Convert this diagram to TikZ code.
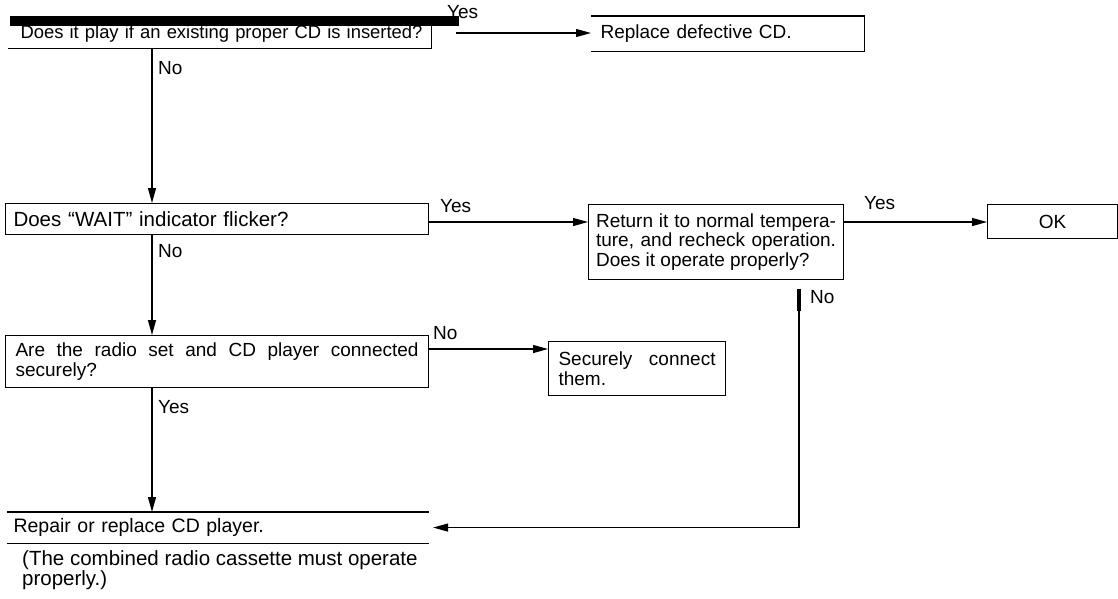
\documentclass[tikz,border=0pt]{standalone}
\usepackage{fontspec}
\setmainfont{Liberation Sans}
\usetikzlibrary{arrows.meta}
\begin{document}
\begin{tikzpicture}[x=1pt,y=-1pt,
  every node/.style={font=\fontsize{19}{20.5}\selectfont},
  qbox/.style={draw, line width=1.1pt, align=justify, inner xsep=9pt, inner ysep=0pt, anchor=north west},
  edge/.style={line width=1.2pt},
  lbl/.style={inner sep=0pt, anchor=west},
  arr/.style={line width=1.2pt, -{Triangle[length=15pt,width=8pt]}}
]
\useasboundingbox (0,0) rectangle (1118,598);

% boxes
\node[qbox, draw=none, text width=398pt, inner xsep=12pt, minimum height=27pt, align=left, font=\fontsize{18.4}{20}\selectfont] (b1) at (8,20) {\mbox{Does it play if an existing proper CD is inserted?}};
\node[qbox, draw=none, text width=254pt, minimum height=34pt, align=left] (b2) at (591,16) {Replace defective CD.};
\node[qbox, text width=407pt, inner xsep=8pt, minimum height=31pt, align=left, font=\fontsize{20.5}{22}\selectfont] (b3) at (5,203) {Does “WAIT” indicator flicker?};
\node[qbox, text width=240pt, inner xsep=7.5pt, minimum height=75pt, font=\fontsize{19}{19.5}\selectfont] (b4) at (588,204) {Return it to normal tempera-\linebreak ture, and recheck operation.\linebreak Does it operate properly?};
\node[qbox, text width=112pt, minimum height=34pt, align=center] (ok) at (987,204) {OK};
\node[qbox, text width=403pt, inner xsep=10pt, minimum height=52pt] (b5) at (5,335) {Are the radio set and CD player connected\linebreak securely?};
\node[qbox, text width=157pt, inner xsep=10pt, minimum height=54pt] (b6) at (548,341) {Securely connect\linebreak them.};
\node[qbox, draw=none, text width=409pt, inner xsep=6pt, minimum height=30pt, align=left, font=\fontsize{19.5}{21}\selectfont] (b7) at (7,512) {Repair or replace CD player.};
\node[anchor=north west, inner sep=0pt, align=left, font=\fontsize{20.5}{19}\selectfont] (note) at (22,550) {(The combined radio cassette must operate\\properly.)};

% partial box outlines
\draw[edge] (b1.south west) -- (b1.south east) -- (b1.north east);
\draw[edge] (b2.north west) -- (b2.north east) -- (b2.south east) -- (b2.south west);
\draw[edge] (b7.north west) -- (b7.north east);
\draw[edge] (b7.south west) -- (b7.south east);

% labels
\node[lbl] (y1) at (447,12) {Yes};
\node[lbl] (n1) at (158,68) {No};
\node[lbl] (y2) at (440,206) {Yes};
\node[lbl] (n2) at (158,251) {No};
\node[lbl] (y3) at (864,203) {Yes};
\node[lbl] (n3) at (810,297) {No};
\node[lbl] (n4) at (433,333) {No};
\node[lbl] (y4) at (158,407) {Yes};

% thick bar across top of first box
\draw[line width=10pt] (10,21) -- (459,21);

% rows / columns
\coordinate (sp) at (152,0);
\coordinate (r1) at (0,33);
\coordinate (r3) at (0,222);
\coordinate (r5) at (0,349);
\coordinate (rr) at (799,0);

% connectors
\draw[arr, shorten <=25pt] (b1.east |- r1) -- (b2.west |- r1);
\draw[arr] (b1.south -| sp) -- (b3.north -| sp);
\draw[arr] (b3.east |- r3) -- (b4.west |- r3);
\draw[arr] (b4.east |- r3) -- (ok.west |- r3);
\draw[arr] (b3.south -| sp) -- (b5.north -| sp);
\draw[arr] (b5.east |- r5) -- (b6.west |- r5);
\draw[arr] (b5.south -| sp) -- (b7.north -| sp);
\draw[arr, shorten <=9pt, shorten >=4pt] (b4.south -| rr) |- (b7.east);
\draw[line width=3.5pt] ([yshift=-9pt]b4.south -| rr) -- ++(0,22);
\end{tikzpicture}
\end{document}
